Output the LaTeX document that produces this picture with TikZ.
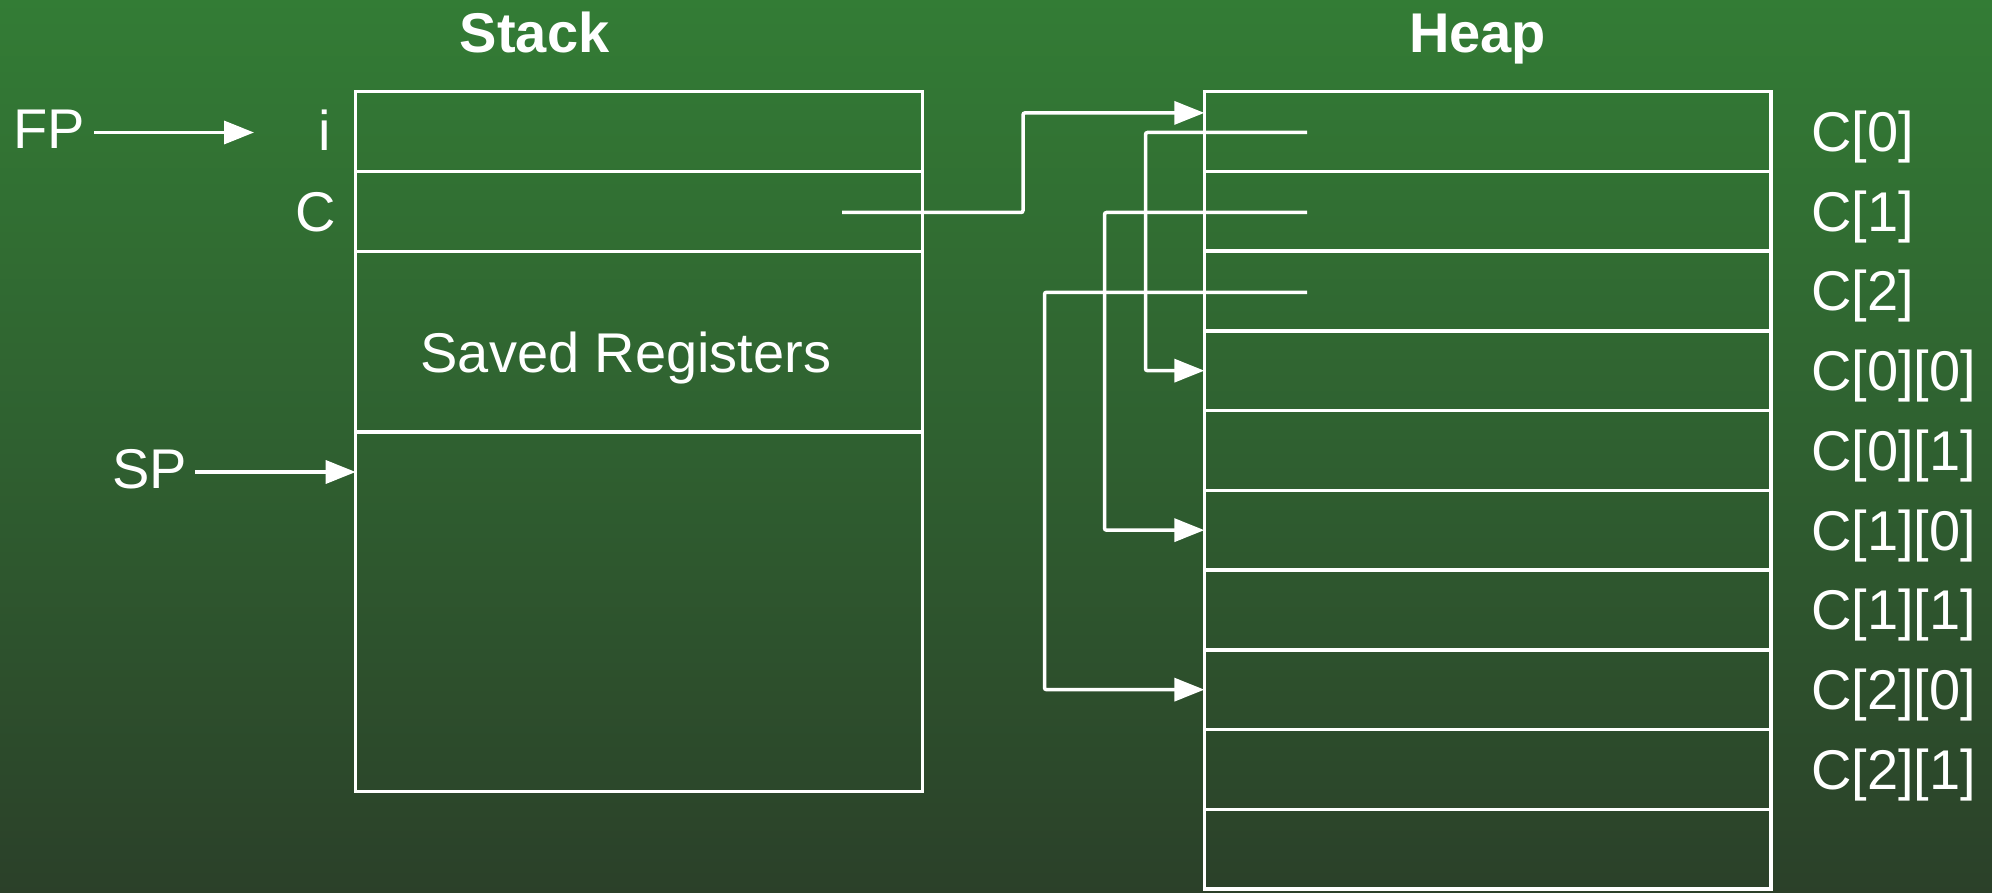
\documentclass[tikz,border=0pt]{standalone}
\usepackage{fontspec}
\setmainfont{Liberation Sans}
\usetikzlibrary{arrows.meta}
\definecolor{bgtop}{RGB}{51,124,53}
\definecolor{bgmid}{RGB}{47,96,48}
\definecolor{bgbot}{RGB}{43,64,41}
\tikzset{
  cell/.style={draw=white, line width=3.5pt, inner sep=0pt, outer sep=0pt, minimum width=566.6pt},
  link/.style={draw=white, line width=3.5pt, rounded corners=2pt, -{Triangle[length=30pt,width=23pt]}},
  lbl/.style={text=white, inner sep=0pt, font=\fontsize{56}{62}\selectfont},
  head/.style={text=white, inner sep=0pt, font=\fontsize{56}{62}\selectfont\bfseries}
}
\begin{document}
\begin{tikzpicture}[x=1pt,y=-1pt]
\useasboundingbox (0,0) rectangle (1992,893);
\shade[top color=bgtop, bottom color=bgbot, middle color=bgmid] (0,0) rectangle (1992,893);

% stack cells
\node[cell, minimum height=80pt] (s0) at (639,131.5) {};
\node[cell, minimum height=80pt] (s1) at (639,211.5) {};
\node[cell, minimum height=180.5pt] (s2) at (639,341.75) {};
\node[cell, minimum height=359.5pt] (s3) at (639,611.75) {};

% heap cells
\foreach \k in {0,...,9}{
  \node[cell, minimum height=79.75pt] (h\k) at (1487.6,{131.4+\k*79.75}) {};
}

% headings
\node[head, anchor=base] (stackh) at (534.7,53) {Stack};
\node[head, anchor=base] (heaph) at (1477.5,53) {Heap};

% stack labels
\node[lbl, anchor=base east] (il) at (331,151) {i};
\node[lbl, anchor=base east] (cl) at (336,231.5) {C};
\node[lbl, anchor=base] (saved) at (626,372.5) {Saved Registers};
\node[lbl, anchor=base west] (fp) at (13,148.5) {FP};
\node[lbl, anchor=base west] (sp) at (112,488) {SP};

% heap labels
\node[lbl, anchor=base west] (l0) at (1811,{131.4+0*79.75+20}) {C[0]};
\node[lbl, anchor=base west] (l1) at (1811,{131.4+1*79.75+20}) {C[1]};
\node[lbl, anchor=base west] (l2) at (1811,{131.4+2*79.75+20}) {C[2]};
\node[lbl, anchor=base west] (l3) at (1811,{131.4+3*79.75+20}) {C[0][0]};
\node[lbl, anchor=base west] (l4) at (1811,{131.4+4*79.75+20}) {C[0][1]};
\node[lbl, anchor=base west] (l5) at (1811,{131.4+5*79.75+20}) {C[1][0]};
\node[lbl, anchor=base west] (l6) at (1811,{131.4+6*79.75+20}) {C[1][1]};
\node[lbl, anchor=base west] (l7) at (1811,{131.4+7*79.75+20}) {C[2][0]};
\node[lbl, anchor=base west] (l8) at (1811,{131.4+8*79.75+20}) {C[2][1]};

% FP and SP arrows
\coordinate (fpstart) at (94,132.5);
\coordinate (fpend) at (254,132.5);
\draw[link] (fpstart) -- (fpend);
\coordinate (spstart) at (195,472);
\draw[link] (spstart) -- (spstart -| s3.west);

% pointer from stack C to heap
\coordinate (cs) at (842,212.5);
\draw[link] (cs) -- ++(181,0) |- ([yshift=18.5pt]h0.west);

% pointers from C[i] to rows
\coordinate (p0) at (1307,132.5);
\coordinate (p1) at (1307,212.5);
\coordinate (p2) at (1307,292.3);
\draw[link] (p0) -- ++(-161.5,0) |- (h3.west);
\draw[link] (p1) -- ++(-202.5,0) |- (h5.west);
\draw[link] (p2) -- ++(-262.5,0) |- (h7.west);
\end{tikzpicture}
\end{document}
